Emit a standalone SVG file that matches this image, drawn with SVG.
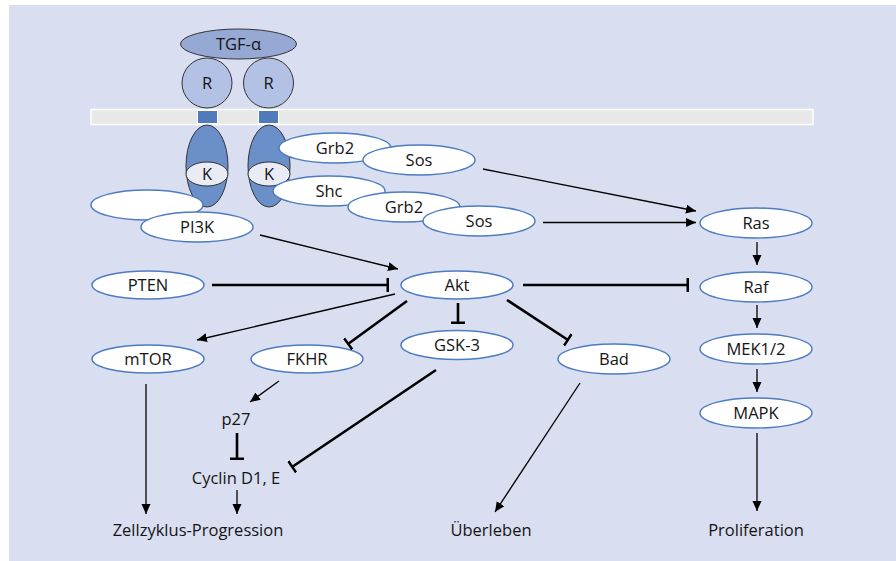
<svg xmlns="http://www.w3.org/2000/svg" width="896" height="561" viewBox="0 0 896 561">
<defs>
<marker id="arr" viewBox="0 0 10 10" refX="10" refY="5" markerWidth="10" markerHeight="10" markerUnits="userSpaceOnUse" orient="auto">
<path d="M0,0.5 L10,5 L0,9.5 z" fill="#000"/>
</marker>
<marker id="tee" viewBox="0 0 4 14" refX="2" refY="7" markerWidth="4" markerHeight="14" markerUnits="userSpaceOnUse" orient="auto">
<rect x="0.5" y="0" width="2.5" height="14" fill="#000"/>
</marker>
<style>
text{font-family:"Open Sans","Liberation Sans",sans-serif;font-size:16.5px;fill:#151515;text-anchor:middle}
.n ellipse{fill:#fff;stroke:#4d7cc0;stroke-width:1.5}
.thin{stroke:#000;stroke-width:1.3;fill:none}
.thick{stroke:#000;stroke-width:2.6;fill:none}
.a{marker-end:url(#arr)}
.t{marker-end:url(#tee)}
</style>
</defs>
<rect x="0" y="0" width="896" height="561" fill="#fff"/>
<rect x="9" y="5" width="887" height="556" fill="#d9dff1"/>

<g id="membrane">
<rect x="91" y="109.5" width="722" height="15" fill="#e8e8e8" stroke="#fff" stroke-width="1.5"/>
</g>

<g id="receptor-left">
<ellipse cx="207" cy="166" rx="21" ry="41" fill="#6b8fc8" stroke="#333" stroke-width="1"/>
<ellipse cx="207" cy="174" rx="21" ry="12" fill="#e9ecf5" stroke="#333" stroke-width="1"/>
<text x="207" y="180">K</text>
<rect x="197.5" y="110.5" width="20" height="13" fill="#4f7bbd" stroke="#fff" stroke-width="1"/>
<circle cx="207" cy="83" r="25" fill="#b3c2e4" stroke="#333" stroke-width="1"/>
<text x="207" y="89">R</text>
</g>
<g id="receptor-right">
<ellipse cx="269" cy="166" rx="21" ry="41" fill="#6b8fc8" stroke="#333" stroke-width="1"/>
<ellipse cx="269" cy="174" rx="21" ry="12" fill="#e9ecf5" stroke="#333" stroke-width="1"/>
<text x="269" y="180">K</text>
<rect x="258.5" y="110.5" width="20" height="13" fill="#4f7bbd" stroke="#fff" stroke-width="1"/>
<circle cx="268.5" cy="83" r="25" fill="#b3c2e4" stroke="#333" stroke-width="1"/>
<text x="268.5" y="89">R</text>
</g>
<g id="tgf">
<ellipse cx="238.5" cy="44" rx="58" ry="15" fill="#95a9d4" stroke="#333" stroke-width="1"/>
<text x="238.5" y="50">TGF-α</text>
</g>

<g id="grb2a" class="n"><ellipse cx="335" cy="148" rx="56" ry="15"/><text x="335" y="154">Grb2</text></g>
<g id="sosa" class="n"><ellipse cx="419" cy="160" rx="56" ry="15"/><text x="419" y="166">Sos</text></g>
<g id="shc" class="n"><ellipse cx="329" cy="191" rx="56" ry="15"/><text x="329" y="197">Shc</text></g>
<g id="grb2b" class="n"><ellipse cx="404" cy="207" rx="56" ry="15"/><text x="404" y="213">Grb2</text></g>
<g id="sosb" class="n"><ellipse cx="479" cy="221" rx="56" ry="15"/><text x="479" y="227">Sos</text></g>
<g id="pi3k-sub" class="n"><ellipse cx="147" cy="205" rx="56" ry="15"/></g>
<g id="pi3k" class="n"><ellipse cx="197" cy="227" rx="56" ry="15"/><text x="197" y="233">PI3K</text></g>
<g id="ras" class="n"><ellipse cx="756" cy="223" rx="56" ry="15"/><text x="756" y="229">Ras</text></g>
<g id="raf" class="n"><ellipse cx="756" cy="287" rx="56" ry="15"/><text x="756" y="293">Raf</text></g>
<g id="akt" class="n"><ellipse cx="457" cy="285" rx="56" ry="14"/><text x="457" y="291">Akt</text></g>
<g id="pten" class="n"><ellipse cx="148" cy="285" rx="56" ry="14"/><text x="148" y="291">PTEN</text></g>
<g id="mtor" class="n"><ellipse cx="148" cy="359" rx="56" ry="14"/><text x="148" y="365">mTOR</text></g>
<g id="fkhr" class="n"><ellipse cx="307" cy="359" rx="56" ry="14"/><text x="307" y="365">FKHR</text></g>
<g id="gsk3" class="n"><ellipse cx="457" cy="345" rx="56" ry="14.5"/><text x="457" y="351">GSK-3</text></g>
<g id="bad" class="n"><ellipse cx="614" cy="359" rx="56" ry="15"/><text x="614" y="365">Bad</text></g>
<g id="mek" class="n"><ellipse cx="756" cy="349" rx="56" ry="15"/><text x="756" y="355">MEK1/2</text></g>
<g id="mapk" class="n"><ellipse cx="756" cy="413" rx="56" ry="15"/><text x="756" y="419">MAPK</text></g>

<g id="p27"><text x="236" y="425">p27</text></g>
<g id="cyclin"><text x="236" y="484">Cyclin D1, E</text></g>
<g id="zellzyklus"><text x="198" y="536">Zellzyklus-Progression</text></g>
<g id="ueberleben"><text x="491" y="536">Überleben</text></g>
<g id="proliferation"><text x="756" y="536">Proliferation</text></g>

<g id="connectors">
<line class="thin a" x1="483" y1="169" x2="696" y2="211"/>
<line class="thin a" x1="543" y1="222.5" x2="696" y2="222.5"/>
<line class="thin a" x1="757" y1="242" x2="757" y2="265"/>
<line class="thin a" x1="260" y1="235" x2="398" y2="269"/>
<line class="thick t" x1="212" y1="285" x2="388" y2="285"/>
<line class="thick t" x1="523" y1="285" x2="688" y2="285"/>
<line class="thin a" x1="395" y1="294" x2="197" y2="340"/>
<line class="thick t" x1="407" y1="301" x2="348" y2="344"/>
<line class="thick t" x1="458" y1="303" x2="458" y2="323"/>
<line class="thick t" x1="507" y1="300" x2="568" y2="340"/>
<line class="thin a" x1="146" y1="384" x2="146" y2="514"/>
<line class="thin a" x1="279" y1="381" x2="250" y2="402"/>
<line class="thick t" x1="237" y1="433" x2="237" y2="459"/>
<line class="thick t" x1="436" y1="370" x2="292" y2="467"/>
<line class="thin a" x1="237" y1="490" x2="237" y2="514"/>
<line class="thin a" x1="580" y1="383" x2="495" y2="512"/>
<line class="thin a" x1="757" y1="305" x2="757" y2="328"/>
<line class="thin a" x1="757" y1="369" x2="757" y2="392"/>
<line class="thin a" x1="757" y1="433" x2="757" y2="511"/>
</g>
</svg>
